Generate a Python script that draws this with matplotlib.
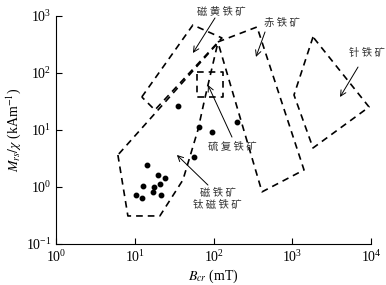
import matplotlib
matplotlib.use("Agg")
import matplotlib.pyplot as plt

plt.rcParams['font.family'] = ['Liberation Serif', 'Noto Sans CJK SC']
plt.rcParams['mathtext.fontset'] = 'stix'

# sample points (Bcr in mT, Mrs/chi in kA/m)
bcr = [10.3, 12.2, 12.6, 14.2, 16.9, 17.4, 19.6, 20.7, 21.4, 24.0,
       35.1, 56.1, 65.0, 95.1, 198]
mrs_chi = [0.72, 0.64, 1.04, 2.43, 0.82, 1.0, 1.63, 1.13, 0.72, 1.44,
           26.4, 3.36, 11.3, 9.2, 13.8]

# mineral fields (polygon corners)
magnetite_x = [6.06, 8.12, 20.7, 40.7, 63.1, 77.5, 113]
magnetite_y = [3.64, 0.31, 0.31, 1.33, 10, 36.4, 336]
pyrrhotite_x = [12.2, 54.5, 127.5, 17.9]
pyrrhotite_y = [37.9, 695, 411, 22.4]
greigite_x = [61.3, 131, 131, 61.3]
greigite_y = [104, 104, 37.9, 37.9]
hematite_x = [113, 356, 1409, 412]
hematite_y = [350, 641, 1.99, 0.82]
goethite_x = [1834, 1051, 1834, 9460]
goethite_y = [428, 41.1, 4.83, 25.3]

fields = [(magnetite_x, magnetite_y), (pyrrhotite_x, pyrrhotite_y),
          (greigite_x, greigite_y), (hematite_x, hematite_y),
          (goethite_x, goethite_y)]

# labels: text, text position, arrow tail, arrow tip
labels = [
    ("磁 黄 铁 矿", (124, 1175), (104, 922), (54.5, 224)),
    ("赤 铁 矿", (740, 754), (450, 524), (345, 191)),
    ("针 铁 矿", (8920, 224), (6850, 127), (4045, 37.9)),
    ("硫 复 铁 矿", (171, 5.03), (171, 7.5), (84.6, 61.5)),
    ("磁 铁 矿\n钛 磁 铁 矿", (112, 0.62), (84.6, 1.08), (34.1, 3.64)),
]

fig = plt.figure(figsize=(3.86, 2.85), dpi=100)
ax = fig.add_axes([0.146, 0.144, 0.815, 0.8])

for fx, fy in fields:
    ax.plot(fx + fx[:1], fy + fy[:1], color='black', lw=1.2,
            linestyle=(0, (4, 3)))

ax.plot(bcr, mrs_chi, 'o', color='black', markersize=3.2)

for txt, pos, tail, tip in labels:
    ax.text(pos[0], pos[1], txt, ha='center', va='center', fontsize=7.5,
            family='Noto Sans CJK SC', color='#333333', linespacing=1.3,
            clip_on=False)
    ax.annotate('', xy=tip, xytext=tail,
                arrowprops=dict(arrowstyle='->', color='black', lw=0.7,
                                shrinkA=0, shrinkB=0), annotation_clip=False)

ax.set_xscale('log')
ax.set_yscale('log')
ax.set_xlim(1, 1e4)
ax.set_ylim(0.1, 1e3)
ax.minorticks_off()
ax.spines['top'].set_visible(False)
ax.spines['right'].set_visible(False)
ax.tick_params(direction='in', length=4, labelsize=10)
ax.set_xlabel(r'$B_{cr}$ (mT)', fontsize=10, labelpad=2)
ax.set_ylabel(r'$M_{rs}/\chi$ (kAm$^{-1}$)', fontsize=10, labelpad=2)

fig.savefig('out.png', dpi=100)
